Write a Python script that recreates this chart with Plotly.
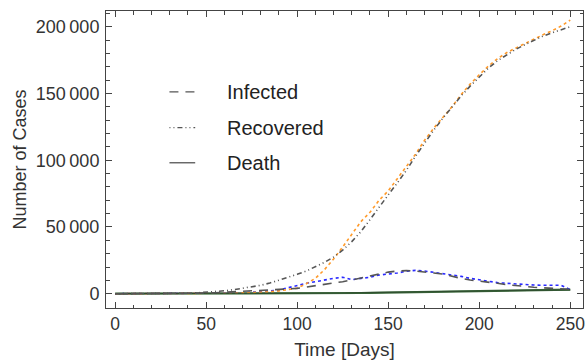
import plotly.graph_objects as go

days = list(range(0, 255, 5))

recovered_data = [0, 0, 0, 0, 0, 0, 0, 0, 0, 0, 100, 200, 300, 400, 600, 800, 1100, 1500, 2100, 2900,
                  4200, 7500, 11500, 18000, 26000, 35000, 44500, 54000, 61000, 70000, 77000, 86000,
                  95000, 104500, 115000, 124000, 132000, 140000, 149000, 157000, 164000, 170500,
                  176000, 180500, 184000, 187500, 191000, 194000, 197000, 200500, 205000]
recovered_model = [0, 0, 0, 0, 50, 100, 150, 250, 400, 650, 1000, 1500, 2200, 3000, 4000, 5000, 6300,
                   8000, 10000, 12000, 14500, 17000, 20000, 23500, 27500, 32700, 39000, 46500, 55500,
                   65000, 74000, 83000, 92500, 103000, 113000, 122500, 131500, 140000, 148000, 155500,
                   162500, 169000, 174500, 179000, 183000, 186500, 190000, 193000, 195500, 198000, 200000]
infected_data = [0, 0, 0, 0, 0, 0, 0, 0, 0, 0, 100, 200, 300, 500, 700, 1000, 1400, 2000, 2800, 4500,
                 6000, 7800, 9000, 10300, 11500, 12300, 10500, 11500, 12300, 14000, 14500, 15500, 16800,
                 17500, 17000, 16000, 15300, 14300, 13000, 11500, 10300, 9300, 8300, 7800, 7200, 6800,
                 6500, 6300, 6300, 6300, 3000]
infected_model = [0, 0, 0, 0, 0, 0, 0, 100, 200, 350, 500, 700, 1000, 1300, 1600, 2000, 2400, 2800,
                  3200, 3600, 4000, 5000, 6000, 6700, 7800, 9000, 10300, 11800, 13300, 15000, 16200,
                  17000, 17300, 17000, 16500, 15500, 14700, 13000, 11500, 10300, 9500, 9000, 7800,
                  6800, 6000, 5300, 4800, 4400, 4000, 3600, 3300]
death_data = [0, 0, 0, 0, 0, 0, 0, 0, 0, 0, 0, 0, 20, 40, 60, 80, 100, 120, 150, 180, 200, 250, 300,
              350, 400, 450, 500, 550, 600, 700, 800, 900, 1000, 1100, 1200, 1300, 1400, 1500, 1600,
              1750, 1900, 2000, 2100, 2250, 2400, 2500, 2600, 2700, 2800, 2900, 3000]
death_model = [0, 0, 0, 0, 0, 0, 0, 0, 0, 10, 20, 30, 50, 70, 90, 110, 140, 170, 200, 240, 280, 320,
               370, 420, 480, 540, 600, 670, 740, 820, 900, 980, 1070, 1160, 1250, 1350, 1450, 1550,
               1650, 1760, 1870, 1980, 2090, 2200, 2300, 2400, 2500, 2600, 2700, 2800, 2900]

x_ticks = [0, 50, 100, 150, 200, 250]
y_ticks = [0, 50000, 100000, 150000, 200000]
y_tick_text = ["0", "50\u2009000", "100\u2009000", "150\u2009000", "200\u2009000"]

legend_names = ["Infected", "Recovered", "Death"]
legend_dashes = ["9px,7px", "1px,3px,1px,3px,5px,3px", "solid"]

FONT = "Liberation Sans, Arial"
MODEL = "#555555"
fig = go.Figure()

fig.add_trace(go.Scatter(x=days, y=death_data, mode="lines",
                         line=dict(color="#3d6b3d", width=2.2), showlegend=False))
fig.add_trace(go.Scatter(x=days, y=infected_data, mode="lines",
                         line=dict(color="#2a2aff", width=1.6, dash="dot"), showlegend=False))
fig.add_trace(go.Scatter(x=days, y=recovered_data, mode="lines",
                         line=dict(color="#ff9a2a", width=1.6, dash="dot"), showlegend=False))
fig.add_trace(go.Scatter(x=days, y=death_model, mode="lines",
                         line=dict(color="#2f4f2f", width=1.2), showlegend=False))
fig.add_trace(go.Scatter(x=days, y=infected_model, mode="lines",
                         line=dict(color=MODEL, width=1.6, dash=legend_dashes[0]), showlegend=False))
fig.add_trace(go.Scatter(x=days, y=recovered_model, mode="lines",
                         line=dict(color=MODEL, width=1.6, dash=legend_dashes[1]), showlegend=False))

# legend drawn as shapes + text
leg_y = [0.728, 0.607, 0.489]
for name, dash, yy in zip(legend_names, legend_dashes, leg_y):
    fig.add_shape(type="line", xref="paper", yref="paper", x0=0.133, x1=0.187, y0=yy, y1=yy,
                  line=dict(color=MODEL, width=1.3, dash=dash))
    fig.add_annotation(xref="paper", yref="paper", x=0.250, y=yy, text=name, showarrow=False,
                       xanchor="left", yanchor="middle", font=dict(family=FONT, size=20, color="#222"))

axis_common = dict(showline=True, linecolor="#444", linewidth=1, mirror="ticks",
                   ticks="inside", ticklen=6, tickcolor="#444", showgrid=False, zeroline=False,
                   ticklabeloverflow="allow")

fig.update_xaxes(range=[-5, 257], tickvals=x_ticks,
                 tickfont=dict(family=FONT, size=17.5, color="#333"),
                 minor=dict(ticks="inside", ticklen=3.5, dtick=10, tickcolor="#444", showgrid=False),
                 title=dict(text="Time [Days]", font=dict(family=FONT, size=19, color="#333"), standoff=10),
                 **axis_common)
fig.update_yaxes(range=[-10700, 211800], tickvals=y_ticks, ticktext=y_tick_text,
                 tickfont=dict(family=FONT, size=18, color="#333"),
                 minor=dict(ticks="inside", ticklen=3.5, dtick=10000, tickcolor="#444", showgrid=False),
                 title=dict(text="Number of Cases", font=dict(family=FONT, size=18, color="#333"), standoff=4),
                 ticklabelstandoff=2,
                 **axis_common)

fig.update_layout(width=587, height=360, margin=dict(l=106, r=2, t=11, b=52),
                  plot_bgcolor="white", paper_bgcolor="white",
                  font=dict(family=FONT, color="#333"))

fig.write_html("out.html")
